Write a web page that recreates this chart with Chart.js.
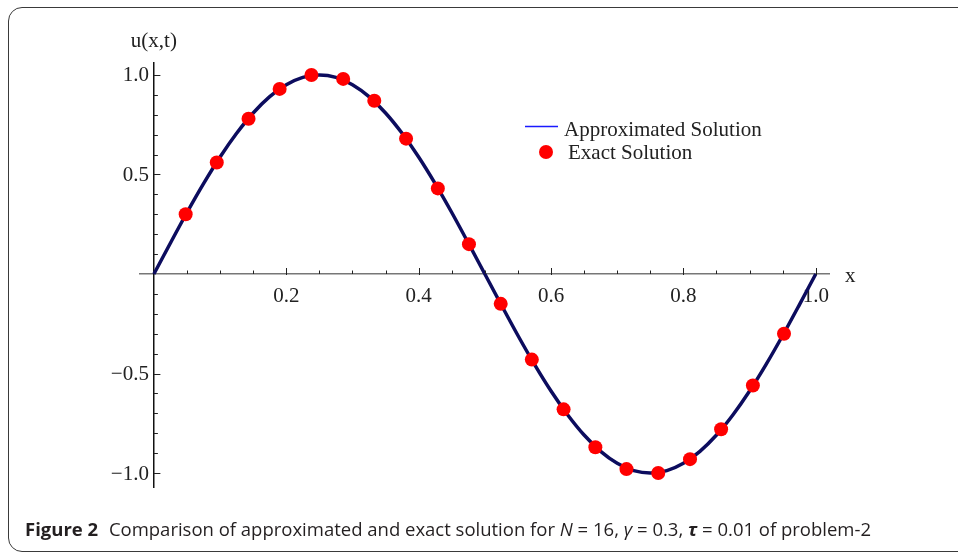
<!DOCTYPE html>
<html>
<head>
<meta charset="utf-8">
<script src="https://cdn.jsdelivr.net/npm/chart.js@4/dist/chart.umd.min.js"></script>
<style>
  html, body { margin: 0; padding: 0; background: #fff; }
  #frame {
    position: absolute; left: 8px; top: 7px; width: 1000px; height: 545px;
    border: 1.5px solid #3a3a3a; border-radius: 14px; box-sizing: border-box;
  }
  #wrap { position: absolute; left: 0; top: 0; width: 958px; height: 557px; }
  #caption {
    position: absolute; left: 25px; top: 519px; white-space: nowrap; line-height: 20px;
    font-family: "Open Sans", sans-serif; font-size: 18.5px;
    color: #231f20; transform-origin: 0 0;
  }
  #caption b { font-weight: bold; margin-right: 6px; }
  #caption i { font-style: italic; }
</style>
</head>
<body>
<div id="frame"></div>
<div id="wrap"><canvas id="solutionChart" width="958" height="557"></canvas></div>
<div id="caption"><b>Figure 2</b> Comparison of approximated and exact solution for <i>N</i> = 16, <i>γ</i> = 0.3, <i><b style="margin:0">τ</b></i> = 0.01 of problem-2</div>
<script>
// Approximated solution
const approxX = [0, 0.025, 0.05, 0.075, 0.1, 0.125, 0.15, 0.175, 0.2, 0.225, 0.25,
  0.275, 0.3, 0.325, 0.35, 0.375, 0.4, 0.425, 0.45, 0.475, 0.5,
  0.525, 0.55, 0.575, 0.6, 0.625, 0.65, 0.675, 0.7, 0.725, 0.75,
  0.775, 0.8, 0.825, 0.85, 0.875, 0.9, 0.925, 0.95, 0.975, 1.0];
const approxU = [0, 0.156, 0.309, 0.454, 0.588, 0.707, 0.809, 0.891, 0.951, 0.988, 1.0,
  0.988, 0.951, 0.891, 0.809, 0.707, 0.588, 0.454, 0.309, 0.156, 0,
  -0.156, -0.309, -0.454, -0.588, -0.707, -0.809, -0.891, -0.951, -0.988, -1.0,
  -0.988, -0.951, -0.891, -0.809, -0.707, -0.588, -0.454, -0.309, -0.156, 0];

// Exact solution markers
const exactX = [0.048, 0.095, 0.143, 0.190, 0.238, 0.286, 0.333, 0.381, 0.429, 0.476,
  0.524, 0.571, 0.619, 0.667, 0.714, 0.762, 0.810, 0.857, 0.905, 0.952];
const exactU = [0.30, 0.56, 0.78, 0.93, 1.00, 0.98, 0.87, 0.68, 0.43, 0.15,
  -0.15, -0.43, -0.68, -0.87, -0.98, -1.00, -0.93, -0.78, -0.56, -0.30];

const xTickLabels = [0.2, 0.4, 0.6, 0.8, 1.0];
const yTickLabels = [-1.0, -0.5, 0.5, 1.0];

const serif = '"Liberation Serif", "DejaVu Serif", serif';

function fmt(v) {
  return v < 0 ? '\u2212' + Math.abs(v).toFixed(1) : v.toFixed(1);
}

// minor/major tick marks, y labels, axis titles, legend
const decorPlugin = {
  id: 'decor',
  afterDraw(chart) {
    const ctx = chart.ctx;
    const xs = chart.scales.x, ys = chart.scales.y;
    const x0 = xs.getPixelForValue(0), y0 = ys.getPixelForValue(0);
    ctx.save();
    ctx.strokeStyle = '#222';
    ctx.lineWidth = 1;
    for (let i = 1; i <= 20; i++) {
      const v = i * 0.05;
      const px = Math.round(xs.getPixelForValue(v)) + 0.5;
      const len = (i % 4 === 0) ? 6 : 3.5;
      ctx.beginPath(); ctx.moveTo(px, y0 + (i % 4 === 0 ? 1 : 0)); ctx.lineTo(px, y0 - len); ctx.stroke();
    }
    for (let i = -10; i <= 10; i++) {
      if (i === 0) continue;
      const py = Math.round(ys.getPixelForValue(i * 0.1)) + 0.5;
      const len = (i % 5 === 0) ? 6.5 : 4;
      ctx.beginPath(); ctx.moveTo(x0, py); ctx.lineTo(x0 + len, py); ctx.stroke();
    }
    ctx.fillStyle = '#222';
    ctx.font = '21px ' + serif;
    ctx.textBaseline = 'middle';
    // y tick labels, right of the label sits next to the axis
    ctx.textAlign = 'right';
    yTickLabels.forEach(v => ctx.fillText(fmt(v), x0 - 5, ys.getPixelForValue(v) + 1));
    // axis titles
    ctx.textAlign = 'center';
    ctx.fillText('u(x,t)', x0, 41);
    ctx.textAlign = 'left';
    ctx.fillText('x', xs.right + 16, y0 + 2);
    // legend
    const d = chart.data.datasets;
    ctx.strokeStyle = '#1a1aff';
    ctx.lineWidth = 1.3;
    ctx.beginPath(); ctx.moveTo(525, 126.5); ctx.lineTo(558, 126.5); ctx.stroke();
    ctx.fillText(d[1].label, 564, 130);
    ctx.fillStyle = '#ff0000';
    ctx.beginPath(); ctx.arc(546, 152, 7, 0, Math.PI * 2); ctx.fill();
    ctx.fillStyle = '#222';
    ctx.fillText(d[0].label, 568, 153);
    ctx.restore();
  }
};

new Chart(document.getElementById('solutionChart'), {
  type: 'scatter',
  data: {
    datasets: [
      {
        label: 'Exact Solution',
        data: exactX.map((x, i) => ({ x: x, y: exactU[i] })),
        pointRadius: 7,
        pointHoverRadius: 7,
        pointBackgroundColor: '#ff0000',
        pointBorderWidth: 0,
        showLine: false,
        order: 0
      },
      {
        label: 'Approximated Solution',
        data: approxX.map((x, i) => ({ x: x, y: approxU[i] })),
        showLine: true,
        borderColor: '#0c0c5e',
        borderWidth: 3.5,
        pointRadius: 0,
        tension: 0.3,
        order: 1
      }
    ]
  },
  plugins: [decorPlugin],
  options: {
    responsive: false,
    animation: false,
    layout: { padding: { left: 140, right: 129, top: 63, bottom: 70 } },
    plugins: { legend: { display: false }, tooltip: { enabled: false } },
    scales: {
      x: {
        type: 'linear',
        min: -0.021, max: 1.02,
        position: { y: 0 },
        afterFit: s => { s.height = 0; },
        afterBuildTicks: s => { s.ticks = xTickLabels.map(v => ({ value: v })); },
        grid: { display: false, drawTicks: false },
        border: { display: true, color: '#777', width: 1.5 },
        ticks: {
          color: '#222', padding: 10, maxRotation: 0, autoSkip: false,
          font: { family: serif, size: 21 },
          callback: v => fmt(v)
        }
      },
      y: {
        type: 'linear',
        min: -1.07, max: 1.06,
        position: { x: 0 },
        afterFit: s => { s.width = 0; },
        afterBuildTicks: s => { s.ticks = yTickLabels.map(v => ({ value: v })); },
        grid: { display: false, drawTicks: false },
        border: { display: true, color: '#111', width: 1.5 },
        ticks: { display: false }
      }
    }
  }
});

// stretch caption to the reference width
const cap = document.getElementById('caption');
const w = cap.getBoundingClientRect().width;
cap.style.transform = 'scaleX(' + (846 / w) + ')';
</script>
</body>
</html>
